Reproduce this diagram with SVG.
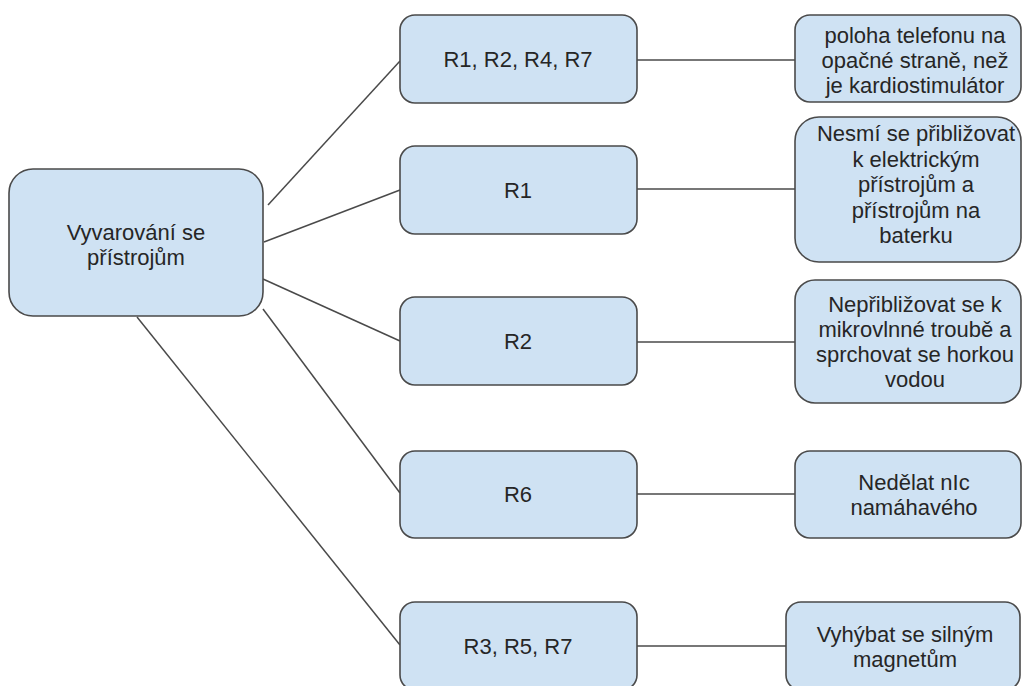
<svg xmlns="http://www.w3.org/2000/svg" width="1022" height="686" viewBox="0 0 1022 686">
<style>
.box{fill:#cfe2f3;stroke:#4a4a4a;stroke-width:1.6}
.t{font-family:"Liberation Sans",Arial,sans-serif;font-size:22px;fill:#262626;text-anchor:middle}
.c{stroke:#4a4a4a;stroke-width:1.5;fill:none}
</style>
<rect width="1022" height="686" fill="#ffffff"/>
<g id="connectors">
<line class="c" x1="268" y1="205" x2="400" y2="61"/>
<line class="c" x1="264" y1="242" x2="400" y2="190"/>
<line class="c" x1="263" y1="279" x2="400" y2="341"/>
<line class="c" x1="263" y1="309" x2="400" y2="493"/>
<line class="c" x1="137" y1="317" x2="400" y2="645"/>
<line class="c" x1="637" y1="60" x2="795" y2="60"/>
<line class="c" x1="637" y1="189" x2="795" y2="189"/>
<line class="c" x1="637" y1="342" x2="795" y2="342"/>
<line class="c" x1="637" y1="494" x2="795" y2="494"/>
<line class="c" x1="637" y1="646" x2="786" y2="646"/>
</g>
<g id="root">
<rect class="box" x="9" y="169" width="254" height="147" rx="24"/>
<text class="t" x="136" y="240">Vyvarování se</text>
<text class="t" x="136" y="265">přístrojům</text>
</g>
<g id="m1">
<rect class="box" x="400" y="15" width="237" height="88" rx="15"/>
<text class="t" x="518" y="67">R1, R2, R4, R7</text>
</g>
<g id="m2">
<rect class="box" x="400" y="146" width="237" height="88" rx="15"/>
<text class="t" x="518" y="198">R1</text>
</g>
<g id="m3">
<rect class="box" x="400" y="297" width="237" height="88" rx="15"/>
<text class="t" x="518" y="349">R2</text>
</g>
<g id="m4">
<rect class="box" x="400" y="451" width="237" height="87" rx="15"/>
<text class="t" x="518" y="502">R6</text>
</g>
<g id="m5">
<rect class="box" x="400" y="602" width="237" height="88" rx="15"/>
<text class="t" x="518" y="654">R3, R5, R7</text>
</g>
<g id="r1">
<rect class="box" x="795" y="15" width="226" height="87" rx="15"/>
<text class="t" x="915" y="43">poloha telefonu na</text>
<text class="t" x="915" y="68">opačné straně, než</text>
<text class="t" x="915" y="93">je kardiostimulátor</text>
</g>
<g id="r2">
<rect class="box" x="795" y="117" width="226" height="145" rx="24"/>
<text class="t" x="916" y="141">Nesmí se přibližovat</text>
<text class="t" x="916" y="166.5">k elektrickým</text>
<text class="t" x="916" y="192">přístrojům a</text>
<text class="t" x="916" y="217.5">přístrojům na</text>
<text class="t" x="916" y="243">baterku</text>
</g>
<g id="r3">
<rect class="box" x="795" y="280" width="226" height="123" rx="20"/>
<text class="t" x="915" y="312">Nepřibližovat se k</text>
<text class="t" x="915" y="337">mikrovlnné troubě a</text>
<text class="t" x="915" y="362">sprchovat se horkou</text>
<text class="t" x="915" y="387">vodou</text>
</g>
<g id="r4">
<rect class="box" x="795" y="451" width="226" height="87" rx="15"/>
<text class="t" x="914" y="490">Nedělat nIc</text>
<text class="t" x="914" y="515">namáhavého</text>
</g>
<g id="r5">
<rect class="box" x="786" y="602" width="234" height="88" rx="15"/>
<text class="t" x="905" y="642">Vyhýbat se silným</text>
<text class="t" x="905" y="667">magnetům</text>
</g>
</svg>
